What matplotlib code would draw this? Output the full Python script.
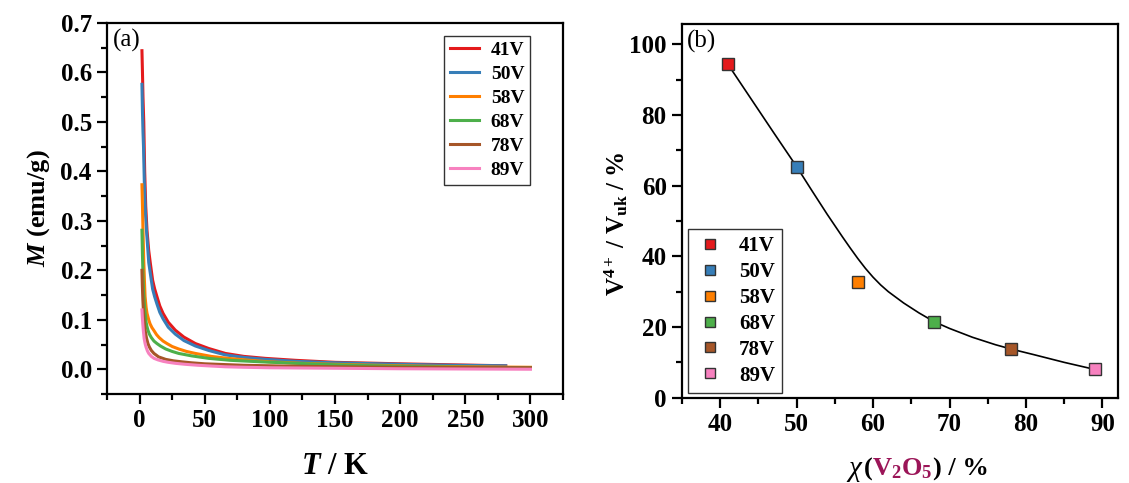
import matplotlib
matplotlib.use("Agg")
import matplotlib.pyplot as plt
from matplotlib.ticker import MultipleLocator
from matplotlib.offsetbox import TextArea, HPacker, AnchoredOffsetbox

plt.rcParams['font.family'] = ['Liberation Serif', 'DejaVu Serif']
plt.rcParams['mathtext.fontset'] = 'custom'
plt.rcParams['mathtext.rm'] = 'Liberation Serif'
plt.rcParams['mathtext.it'] = 'Liberation Serif:italic'
plt.rcParams['mathtext.bf'] = 'Liberation Serif:bold'
plt.rcParams['mathtext.bfit'] = 'Liberation Serif:italic:bold'

# ---- data (a): M vs T ----
labels = ['41V', '50V', '58V', '68V', '78V', '89V']
colors = ['#E41A1C', '#377EB8', '#FF7F00', '#4DAF4A', '#A65628', '#F781BF']

T_41 = [1.8, 2.2, 2.6, 3.2, 3.9, 4.7, 5.7, 7, 8.2, 10, 11.5, 13.3, 15.5, 18, 22, 27.4, 34, 42.8,
        53, 65.8, 80, 96.5, 120, 150, 200, 240, 281]
M_41 = [0.644, 0.60, 0.55, 0.50, 0.40, 0.33, 0.28, 0.24, 0.215, 0.18, 0.163, 0.147, 0.128, 0.113,
        0.095, 0.079, 0.065, 0.052, 0.042, 0.032, 0.026, 0.022, 0.018, 0.014, 0.011, 0.009, 0.007]
T_50 = [1.8, 2.2, 2.6, 3.0, 3.6, 4.4, 5.3, 7, 8.2, 10, 11.5, 13.3, 15.5, 18, 22, 27.4, 34, 42.8,
        53, 65.8, 80, 96.5, 120, 150, 200, 240, 281]
M_50 = [0.576, 0.52, 0.48, 0.45, 0.38, 0.32, 0.28, 0.216, 0.194, 0.162, 0.147, 0.132, 0.115, 0.102,
        0.085, 0.071, 0.058, 0.047, 0.038, 0.029, 0.024, 0.020, 0.016, 0.013, 0.010, 0.008, 0.007]
T_58 = [1.8, 2.2, 2.6, 3.2, 3.7, 4.2, 5, 5.7, 7, 8, 9.5, 10.8, 13, 15, 18, 21, 25, 30, 36, 42.8,
        55, 68, 85, 100, 125, 150, 200, 250, 300]
M_58 = [0.373, 0.33, 0.28, 0.22, 0.18, 0.147, 0.125, 0.113, 0.100, 0.092, 0.084, 0.079, 0.070, 0.064,
        0.057, 0.052, 0.046, 0.041, 0.036, 0.032, 0.026, 0.022, 0.018, 0.015, 0.012, 0.010, 0.007,
        0.005, 0.004]
T_68 = [1.8, 2.2, 2.6, 3.2, 4, 5, 5.7, 6.4, 7.5, 9, 11, 13.3, 16, 20, 25, 30, 40, 53, 70, 93, 120,
        150, 200, 250, 300]
M_68 = [0.281, 0.23, 0.19, 0.15, 0.12, 0.095, 0.086, 0.079, 0.071, 0.064, 0.057, 0.052, 0.047, 0.041,
        0.036, 0.032, 0.027, 0.022, 0.018, 0.015, 0.012, 0.009, 0.006, 0.004, 0.003]
T_78 = [1.8, 2.1, 2.5, 2.9, 3.4, 4.2, 5.3, 6.4, 7.5, 9, 11, 14.6, 20, 26, 32.5, 40, 50, 65, 80, 110,
        150, 200, 250, 300]
M_78 = [0.20, 0.17, 0.14, 0.12, 0.10, 0.079, 0.063, 0.052, 0.045, 0.038, 0.032, 0.025, 0.020, 0.017,
        0.015, 0.013, 0.011, 0.0095, 0.008, 0.0065, 0.005, 0.004, 0.0035, 0.003]
T_89 = [1.8, 2.1, 2.5, 2.9, 3.5, 4.2, 4.9, 6, 7, 9, 11.1, 14, 18, 22, 27.4, 35, 45, 55, 65.8, 80,
        100, 150, 200, 250, 300]
M_89 = [0.12, 0.105, 0.09, 0.077, 0.062, 0.052, 0.045, 0.037, 0.032, 0.026, 0.022, 0.019, 0.016,
        0.014, 0.012, 0.010, 0.008, 0.0065, 0.005, 0.004, 0.003, 0.002, 0.001, 0.0005, 0.0]

T_all = [T_41, T_50, T_58, T_68, T_78, T_89]
M_all = [M_41, M_50, M_58, M_68, M_78, M_89]

# ---- data (b): V4+/Vuk vs V2O5 content ----
x_v2o5 = [41, 50, 58, 68, 78, 89]
v4_ratio = [94.4, 65.4, 32.7, 21.5, 13.8, 8.0]
# guide curve
fit_x = [41, 44, 47, 50, 52, 54, 56, 57, 58, 59, 60, 61, 62, 64, 66, 68, 70, 73, 76, 78, 81, 85, 89]
fit_y = [94.4, 84.7, 75.0, 65.4, 58.6, 51.9, 45.5, 42.4, 39.4, 36.6, 34.1, 31.9, 30.0, 26.8, 24.0,
         21.5, 19.6, 17.1, 15.0, 13.8, 12.2, 10.0, 8.0]

fig = plt.figure(figsize=(11.29, 4.83), dpi=100)
ax1 = fig.add_axes([0.0948, 0.1843, 0.4039, 0.7681])
ax2 = fig.add_axes([0.604, 0.1766, 0.386, 0.7734])

for T, M, lab, c in zip(T_all, M_all, labels, colors):
    ax1.plot(T, M, color=c, lw=2.2, label=lab)

ax1.set_xlim(-25, 325)
ax1.set_ylim(-0.05, 0.7)
ax1.xaxis.set_major_locator(MultipleLocator(50))
ax1.xaxis.set_minor_locator(MultipleLocator(25))
ax1.yaxis.set_major_locator(MultipleLocator(0.1))
ax1.yaxis.set_minor_locator(MultipleLocator(0.05))
ax1.set_xticks([0, 50, 100, 150, 200, 250, 300])
ax1.set_xlabel(r'$\mathbfit{T}$ / K', fontsize=22, fontweight='bold', labelpad=14)
ax1.set_ylabel(r'$\mathbfit{M}$ (emu/g)', fontsize=19, fontweight='bold', labelpad=6)
ax1.text(0.012, 0.985, '(a)', transform=ax1.transAxes, fontsize=18, va='top', ha='left')
leg1 = ax1.legend(loc='upper right', bbox_to_anchor=(0.928, 0.966), frameon=True, fancybox=False,
                  edgecolor='black', prop={'weight': 'bold', 'size': 14}, handlelength=1.5,
                  labelspacing=0.33, borderpad=0.3, handletextpad=0.6, borderaxespad=0)
leg1.get_frame().set_linewidth(1.0)

ax2.plot(fit_x, fit_y, color='black', lw=1.2, zorder=2)
for x, y, lab, c in zip(x_v2o5, v4_ratio, labels, colors):
    ax2.plot(x, y, linestyle='none', marker='s', ms=8, mfc=c, mec='#333333', mew=1.0,
             label=lab, zorder=3)
ax2.set_xlim(35, 92)
ax2.set_ylim(0, 105.7)
ax2.xaxis.set_major_locator(MultipleLocator(10))
ax2.xaxis.set_minor_locator(MultipleLocator(5))
ax2.yaxis.set_major_locator(MultipleLocator(20))
ax2.yaxis.set_minor_locator(MultipleLocator(10))
ax2.set_ylabel(r'$\mathbf{V^{4+}}$ / $\mathbf{V_{uk}}$ / %', fontsize=18, fontweight='bold')
ax2.yaxis.set_label_coords(-0.119, 0.465)
ax2.text(0.012, 0.985, '(b)', transform=ax2.transAxes, fontsize=18, va='top', ha='left')
leg2 = ax2.legend(loc='lower left', bbox_to_anchor=(0.014, 0.013), frameon=True, fancybox=False,
                  edgecolor='black', prop={'weight': 'bold', 'size': 15}, handlelength=1.4,
                  labelspacing=0.28, borderpad=0.35, handletextpad=0.7, markerscale=0.85,
                  borderaxespad=0)
leg2.get_frame().set_linewidth(1.0)

# multi-coloured x label of panel (b)
parts = [TextArea(r'$\chi$', textprops=dict(fontsize=21, color='black')),
         TextArea('(', textprops=dict(fontsize=19, fontweight='bold', color='black')),
         TextArea(r'$\mathbf{V_2O_5}$', textprops=dict(fontsize=19, color='#9B1558')),
         TextArea(') / %', textprops=dict(fontsize=19, fontweight='bold', color='black'))]
box = HPacker(children=parts, align='baseline', pad=0, sep=0)
anch = AnchoredOffsetbox(loc='upper center', child=box, pad=0, frameon=False,
                         bbox_to_anchor=(0.54, -0.155), bbox_transform=ax2.transAxes, borderpad=0)
ax2.add_artist(anch)

for ax in (ax1, ax2):
    for s in ax.spines.values():
        s.set_linewidth(1.6)
    ax.tick_params(which='both', direction='out', top=False, right=False, width=1.6)
    ax.tick_params(which='major', length=7, labelsize=18, pad=4)
    ax.tick_params(which='minor', length=4)
    for lbl in ax.get_xticklabels() + ax.get_yticklabels():
        lbl.set_fontweight('bold')

fig.savefig('out.png', dpi=100)
